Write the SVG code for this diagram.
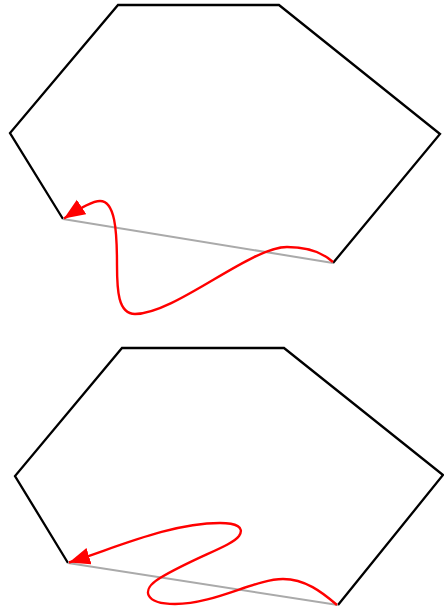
<svg xmlns="http://www.w3.org/2000/svg" width="444" height="610" viewBox="0 0 444 610">
<style>
.hex{fill:none;stroke:#000;stroke-width:2.3;stroke-linejoin:miter}
.chord{stroke:#aaa;stroke-width:2;fill:none}
.curve{fill:none;stroke:#f00;stroke-width:2.4;marker-end:url(#arr)}
</style>
<defs>
<marker id="arr" markerUnits="userSpaceOnUse" markerWidth="22" markerHeight="18" refX="21" refY="8.5" orient="auto">
<path d="M0,0 L21,8.5 L0,17 z" fill="#f00"/>
</marker>
</defs>
<g id="hex-top">
<polyline class="hex" points="63,219 10,133 118,5 279,5 440,134 333,263"/>
</g>
<g id="hex-bottom">
<polyline class="hex" points="68,563 15,476 122,348 284,348 443,475 338,605"/>
</g>
<g id="connectors">
<line class="chord" x1="63" y1="219" x2="333" y2="263"/>
<line class="chord" x1="68" y1="563" x2="338" y2="605"/>
<path class="curve" d="M333,262 C322,252 305,247 287,247 C250,247 175,314 135,314 C118,314 117,290 117,265 C117,230 115,201 100,201 C92,201 80,208 64,218.5"/>
<path class="curve" d="M337,605 C322,592 305,579 283,579 C255,579 215,604 175,604 C145,604 140,590 160,578 C195,557 232,546 239,536 C245,527 236,523 220,523 C170,523 115,548 69,562.5"/>
</g>
</svg>
